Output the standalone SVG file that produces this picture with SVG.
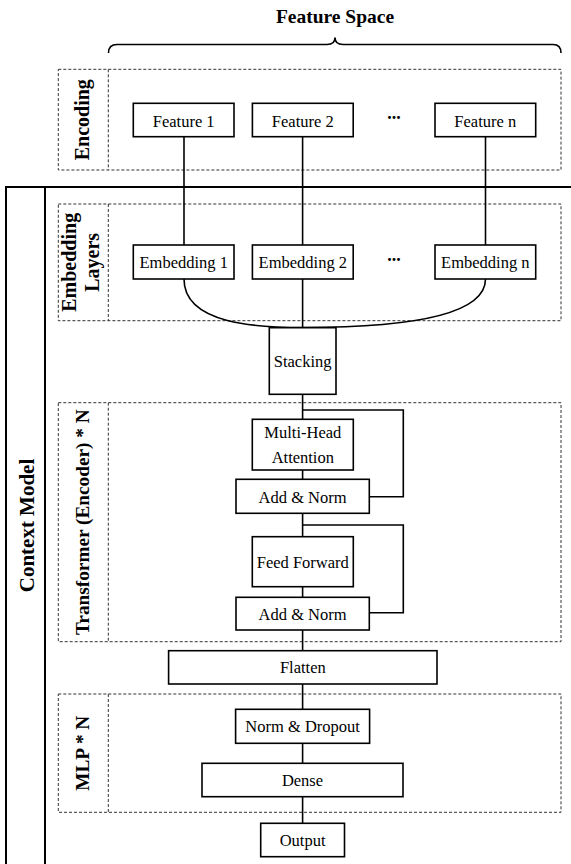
<svg xmlns="http://www.w3.org/2000/svg" width="571" height="864" viewBox="0 0 571 864">
<style>
.bg{fill:#ffffff}
.box{fill:#ffffff;stroke:#000;stroke-width:1.6}
.dash{fill:none;stroke:#333;stroke-width:1;stroke-dasharray:3 2}
.frame{fill:none;stroke:#000;stroke-width:2}
.wire{fill:none;stroke:#000;stroke-width:1.6}
.t{font-family:"Liberation Serif","Times New Roman",serif;font-size:16.5px;fill:#000;text-anchor:middle}
.lab{font-family:"Liberation Serif","Times New Roman",serif;font-weight:bold;fill:#000;text-anchor:middle}
.dots{font-family:"Liberation Serif","Times New Roman",serif;font-weight:bold;font-size:18px;fill:#000;text-anchor:middle}
</style>
<rect class="bg" x="0" y="0" width="571" height="864"/>

<g id="title">
<text class="lab" x="335" y="22.5" style="font-size:19.5px">Feature Space</text>
<path class="wire" d="M108.5,53 Q108.5,44.5 117,44.5 L327,44.5 Q335,44.5 335,37.5 Q335,44.5 343,44.5 L553,44.5 Q561,44.5 561,53"/>
</g>

<g id="context-frame">
<path class="frame" d="M571,187 L6,187 L6,864 M45,187 L45,864"/>
<text class="lab" transform="translate(33.5,525.5) rotate(-90)" style="font-size:21px">Context Model</text>
</g>

<g id="groups">
<rect class="dash" x="58.3" y="69.3" width="502.7" height="100.7"/>
<line class="dash" x1="108.3" y1="69.3" x2="108.3" y2="170"/>
<text class="lab" transform="translate(89,119.7) rotate(-90)" style="font-size:20px">Encoding</text>

<rect class="dash" x="58.3" y="204" width="502.7" height="116.7"/>
<line class="dash" x1="108.3" y1="204" x2="108.3" y2="320.7"/>
<text class="lab" transform="translate(76,262.3) rotate(-90)" style="font-size:20px">Embedding</text>
<text class="lab" transform="translate(99,262.3) rotate(-90)" style="font-size:20px">Layers</text>

<rect class="dash" x="58.3" y="402.7" width="502.7" height="239"/>
<line class="dash" x1="108.3" y1="402.7" x2="108.3" y2="641.7"/>
<text class="lab" transform="translate(88.5,522.2) rotate(-90)" style="font-size:19.3px">Transformer (Encoder) * N</text>

<rect class="dash" x="58.3" y="694" width="502.7" height="118.3"/>
<line class="dash" x1="108.3" y1="694" x2="108.3" y2="812.3"/>
<text class="lab" transform="translate(89,753.2) rotate(-90)" style="font-size:19.3px">MLP * N</text>
</g>

<g id="connectors">
<line class="wire" x1="184" y1="136.7" x2="184" y2="245"/>
<line class="wire" x1="302.6" y1="136.7" x2="302.6" y2="245"/>
<line class="wire" x1="485.5" y1="136.7" x2="485.5" y2="245"/>
<line class="wire" x1="302.6" y1="279" x2="302.6" y2="327.7"/>
<path class="wire" d="M184,279 C184,325 260,327.5 302.6,327.5"/>
<path class="wire" d="M485.5,279 C485.5,325 360,327.5 302.6,327.5"/>
<line class="wire" x1="302.6" y1="394.3" x2="302.6" y2="419.3"/>
<path class="wire" d="M302.6,410 L403.3,410 L403.3,496.7 L369.3,496.7"/>
<line class="wire" x1="302.6" y1="470" x2="302.6" y2="479.3"/>
<line class="wire" x1="302.6" y1="513.3" x2="302.6" y2="536.7"/>
<path class="wire" d="M302.6,525 L403.3,525 L403.3,612.7 L369.3,612.7"/>
<line class="wire" x1="302.6" y1="586.7" x2="302.6" y2="597.3"/>
<line class="wire" x1="302.6" y1="630" x2="302.6" y2="650.7"/>
<line class="wire" x1="302.6" y1="684" x2="302.6" y2="709.3"/>
<line class="wire" x1="302.6" y1="743.3" x2="302.6" y2="763.3"/>
<line class="wire" x1="302.6" y1="796.7" x2="302.6" y2="823.3"/>
</g>

<g id="feature-1"><rect class="box" x="133.3" y="103.3" width="100.7" height="33.4"/><text class="t" x="183.7" y="126.5">Feature 1</text></g>
<g id="feature-2"><rect class="box" x="252.4" y="103.3" width="100.8" height="33.4"/><text class="t" x="302.8" y="126.5">Feature 2</text></g>
<g id="feature-dots"><text class="dots" x="394" y="118.5">...</text></g>
<g id="feature-n"><rect class="box" x="435" y="103.3" width="100.7" height="33.4"/><text class="t" x="485.3" y="126.5">Feature n</text></g>

<g id="embedding-1"><rect class="box" x="133.3" y="245" width="100.7" height="34"/><text class="t" x="183.7" y="268">Embedding 1</text></g>
<g id="embedding-2"><rect class="box" x="252.4" y="245" width="100.8" height="34"/><text class="t" x="302.8" y="268">Embedding 2</text></g>
<g id="embedding-dots"><text class="dots" x="394" y="260.5">...</text></g>
<g id="embedding-n"><rect class="box" x="435" y="245" width="100.7" height="34"/><text class="t" x="485.3" y="268">Embedding n</text></g>

<g id="stacking"><rect class="box" x="269.3" y="327.7" width="66.7" height="66.6"/><text class="t" x="302.6" y="367.3">Stacking</text></g>

<g id="multi-head-attention"><rect class="box" x="252.3" y="419.3" width="101" height="50.7"/><text class="t" x="302.8" y="438.3">Multi-Head</text><text class="t" x="302.8" y="463.3">Attention</text></g>
<g id="add-norm-1"><rect class="box" x="236" y="479.3" width="133.3" height="34"/><text class="t" x="302.6" y="502.5">Add &amp; Norm</text></g>
<g id="feed-forward"><rect class="box" x="252.3" y="536.7" width="101" height="50"/><text class="t" x="302.8" y="567.5">Feed Forward</text></g>
<g id="add-norm-2"><rect class="box" x="236" y="597.3" width="133.3" height="32.7"/><text class="t" x="302.6" y="619.5">Add &amp; Norm</text></g>

<g id="flatten"><rect class="box" x="168.6" y="650.7" width="268.4" height="33.3"/><text class="t" x="302.8" y="673.3">Flatten</text></g>
<g id="norm-dropout"><rect class="box" x="235.6" y="709.3" width="134" height="34"/><text class="t" x="302.6" y="731.8">Norm &amp; Dropout</text></g>
<g id="dense"><rect class="box" x="202" y="763.3" width="201" height="33.4"/><text class="t" x="302.5" y="785.8">Dense</text></g>
<g id="output"><rect class="box" x="260.7" y="823.3" width="83.8" height="33.4"/><text class="t" x="302.6" y="845.5">Output</text></g>
</svg>
